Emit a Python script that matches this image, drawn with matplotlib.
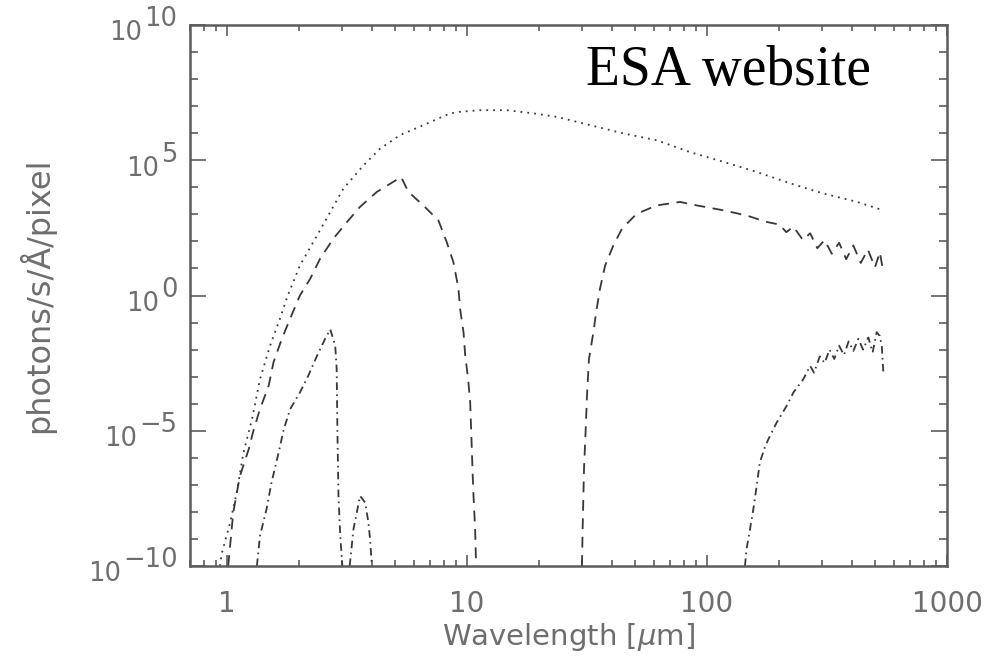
import matplotlib
matplotlib.use("Agg")
import matplotlib.pyplot as plt
from matplotlib import ticker

# ---- spectra (wavelength in micron, flux in photons/s/A/pixel) ----
# total emission (dotted)
total_wl = [0.933, 0.951, 1.029, 1.096, 1.17, 1.27, 1.37, 1.51, 1.66, 1.78,
            2.01, 2.37, 2.69, 3.05, 3.70, 4.34, 5.26, 6.58, 8.49, 9.35,
            11.3, 14.6, 18.9, 23.7, 32.5, 44.8, 61.7, 84.9, 117, 161,
            222, 305, 421, 543]
total_flux = [1e-10, 3.1e-10, 4e-9, 5.2e-8, 1.6e-6, 2.7e-5, 8.1e-4, 1.4e-2, 0.14, 0.89,
              12.9, 166, 1230, 8900, 6.5e4, 2.7e5, 8.5e5, 2.0e6, 5.4e6, 6.2e6,
              7.1e6, 7.1e6, 5.4e6, 4.0e6, 2.0e6, 9.8e5, 5.5e5, 2.0e5, 8.7e4, 3.7e4,
              1.4e4, 5.9e3, 2.9e3, 1.4e3]

# dashed: near-infrared band
dash_nir_wl = [1.01, 1.06, 1.13, 1.23, 1.29, 1.37, 1.49, 1.56, 1.69, 1.83,
               2.01, 2.22, 2.44, 2.77, 3.16, 3.58, 4.21, 5.18, 5.31, 5.69,
               6.58, 7.59, 8.22, 8.77, 9.20, 9.35, 9.66, 9.82, 10.1, 10.3,
               10.45, 10.6, 10.8, 10.9]
dash_nir_flux = [1e-10, 9.5e-9, 2.1e-7, 2.1e-6, 1.1e-5, 6.3e-5, 4.7e-4, 3.4e-3, 2.5e-2, 0.14,
                 1.0, 4.2, 23, 126, 525, 1.9e3, 6.8e3, 2.1e4, 2.4e4, 6.8e3,
                 2.1e3, 600, 95, 17, 1.8, 0.32, 0.044, 6.0e-3, 8.1e-4, 1.1e-4,
                 2.8e-6, 6.9e-8, 2.3e-9, 1e-10]

# dashed: far-infrared band
dash_fir_wl = [30.1, 30.3, 30.7, 31.2, 31.6, 32.2, 33.6, 34.5, 35.8, 37.6,
               40.7, 44.2, 50.9, 61.7, 77.2, 90.6, 117, 146, 177, 200,
               214, 229, 251, 269, 288, 309, 331, 355, 380, 407,
               437, 468, 501, 525, 543]
dash_fir_flux = [1e-10, 2.3e-9, 3.8e-7, 1.1e-5, 2.0e-4, 4.5e-3, 4.4e-2, 0.24, 1.8, 12.9,
                 71, 295, 1050, 2140, 2880, 2140, 1410, 910, 525, 420,
                 220, 350, 112, 200, 56, 112, 35, 89, 22, 71,
                 16, 50, 11, 40, 7]

# dash-dot: near-infrared band and its secondary bump
dd_nir_wl = [1.33, 1.37, 1.46, 1.53, 1.64, 1.72, 1.83, 2.01, 2.18, 2.37,
             2.56, 2.69, 2.82, 2.86, 2.88, 2.91, 2.96, 3.02]
dd_nir_flux = [1e-10, 1.3e-9, 1.3e-8, 1.2e-7, 1.6e-6, 1.1e-5, 6.3e-5, 2.6e-4, 1.1e-3, 6.0e-3,
               2.5e-2, 5.6e-2, 1.4e-2, 1.9e-3, 1.1e-5, 3.9e-8, 1.3e-9, 1e-10]
dd_bump_wl = [3.24, 3.36, 3.47, 3.58, 3.76, 3.88, 3.94, 4.01]
dd_bump_flux = [1e-10, 2.3e-9, 9.5e-9, 3.9e-8, 2.2e-8, 4.0e-9, 9.8e-10, 1e-10]

# dash-dot: far-infrared band
dd_fir_wl = [143.9, 146, 151, 156, 161, 166, 175, 183, 195, 215,
             229, 252, 269, 279, 295, 309, 324, 339, 355, 372,
             389, 407, 427, 447, 470, 490, 509, 525, 535, 543]
dd_fir_flux = [1e-10, 4.2e-10, 2.3e-9, 1.3e-8, 9.1e-8, 6.8e-7, 2.8e-6, 6.5e-6, 2.0e-5, 8.5e-5,
               2.6e-4, 8.1e-4, 2.5e-3, 1.4e-3, 5.6e-3, 3.2e-3, 1.0e-2, 4.5e-3, 1.4e-2, 6.3e-3,
               2.0e-2, 8.9e-3, 2.5e-2, 1.0e-2, 2.8e-2, 7.9e-3, 4.4e-2, 3.2e-2, 1.3e-2, 1.4e-3]

x_ticks = [1, 10, 100, 1000]
y_exponents = [-10, -5, 0, 5, 10]

x_label = "Wavelength [$\\mu$m]"
y_label = "photons/s/Å/pixel"
note = "ESA website"

# ---- figure ----
W, H = 1005, 660
fig = plt.figure(figsize=(W / 100, H / 100), dpi=100)
left, right, top, bottom = 190, 947, 25, 566
ax = fig.add_axes([left / W, 1 - bottom / H, (right - left) / W, (bottom - top) / H])
ax.set_xscale("log")
ax.set_yscale("log")
ax.set_xlim(0.7, 1000)
ax.set_ylim(1e-10, 1e10)

line_col = "#383838"
lw = 1.3
dotted = (0, (1.0, 2.8))
dashed = (0, (6.0, 4.2))
dashdot = (0, (4.2, 2.4, 0.9, 2.4))

ax.plot(total_wl, total_flux, color=line_col, lw=lw, linestyle=dotted)
ax.plot(dash_nir_wl, dash_nir_flux, color=line_col, lw=lw, linestyle=dashed)
ax.plot(dash_fir_wl, dash_fir_flux, color=line_col, lw=lw, linestyle=dashed)
ax.plot(dd_nir_wl, dd_nir_flux, color=line_col, lw=lw, linestyle=dashdot)
ax.plot(dd_bump_wl, dd_bump_flux, color=line_col, lw=lw, linestyle=dashdot)
ax.plot(dd_fir_wl, dd_fir_flux, color=line_col, lw=lw, linestyle=dashdot)

# ---- axes styling ----
frame_col = "#5c5c5c"
text_col = "#6e6e6e"
for sp in ax.spines.values():
    sp.set_color(frame_col)
    sp.set_linewidth(1.8)

ax.xaxis.set_major_locator(ticker.FixedLocator(x_ticks))
ax.xaxis.set_minor_locator(ticker.LogLocator(base=10, subs=range(2, 10), numticks=20))
ax.xaxis.set_major_formatter(ticker.FuncFormatter(lambda v, p: f"{v:g}"))
ax.xaxis.set_minor_formatter(ticker.NullFormatter())

ax.yaxis.set_major_locator(ticker.FixedLocator([10.0 ** e for e in y_exponents]))
ax.yaxis.set_minor_locator(ticker.LogLocator(base=10, subs=(1.0,), numticks=40))
ax.yaxis.set_major_formatter(ticker.NullFormatter())
ax.yaxis.set_minor_formatter(ticker.NullFormatter())

ax.tick_params(which="both", direction="in", top=True, right=True,
               color=frame_col, width=1.2)
ax.tick_params(axis="x", which="major", length=8, pad=17,
               labelsize=20, labelcolor=text_col)
ax.tick_params(axis="x", which="minor", length=4.3)
ax.tick_params(axis="y", which="major", length=11.5, labelleft=False)
ax.tick_params(axis="y", which="minor", length=5.8)

# y tick labels: "10" with a full-size raised exponent
for e in y_exponents:
    exp_str = str(e).replace("-", "\u2212")
    ex = ax.annotate(exp_str, xy=(0, 10.0 ** e), xycoords=("axes fraction", "data"),
                     xytext=(-9, -1), textcoords="offset points",
                     ha="right", va="baseline", fontsize=18.5, color=text_col)
    ax.annotate("10", xy=(0, 0), xycoords=ex, xytext=(-1.5, -10),
                textcoords="offset points", ha="right", va="bottom",
                fontsize=18.5, color=text_col)

ax.set_xlabel(x_label, fontsize=21, color=text_col)
ax.xaxis.set_label_coords(0.5, -0.102)
ax.set_ylabel(y_label, fontsize=23, color=text_col)
ax.yaxis.set_label_coords(-0.178, 0.5)

ax.text(0.5225, 0.889, note, transform=ax.transAxes, ha="left", va="baseline",
        fontsize=40, family="Liberation Serif", color="black")

fig.savefig("out.png", dpi=100)
